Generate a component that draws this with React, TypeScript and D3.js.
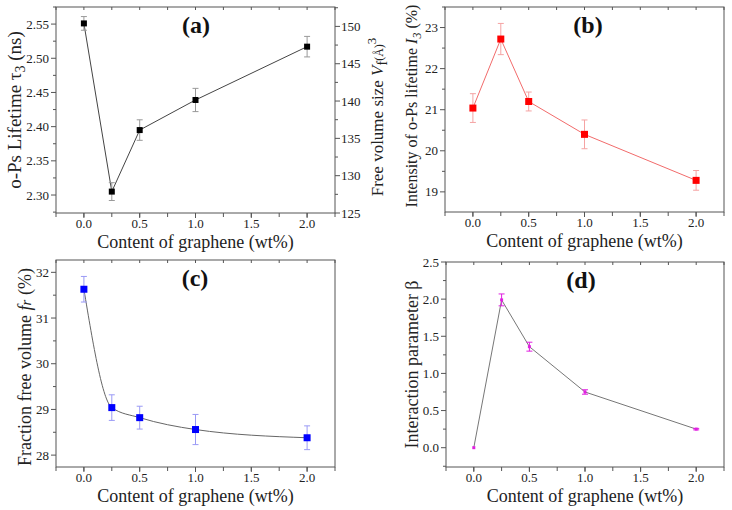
import * as d3 from "d3";
import React from "react";

// graphene content (wt%)
const contents = [0, 0.25, 0.5, 1, 2];
const tauValues = [2.551, 2.305, 2.395, 2.439, 2.517];
const tauErrors = [0.01, 0.013, 0.015, 0.017, 0.015];
const intensityValues = [21.04, 22.72, 21.2, 20.4, 19.28];
const intensityErrors = [0.35, 0.38, 0.23, 0.35, 0.24];
const ffvValues = [31.63, 29.04, 28.82, 28.56, 28.38];
const ffvErrors = [0.28, 0.28, 0.25, 0.33, 0.26];
const betaValues = [0, 1.99, 1.36, 0.75, 0.25];
const betaErrors = [0, 0.08, 0.06, 0.03, 0.01];

const xTicks = [0, 0.5, 1, 1.5, 2];
const tauTicks = [2.3, 2.35, 2.4, 2.45, 2.5, 2.55];
const volTicks = [125, 130, 135, 140, 145, 150];
const intensityTicks = [19, 20, 21, 22, 23];
const ffvTicks = [28, 29, 30, 31, 32];
const betaTicks = [0, 0.5, 1, 1.5, 2, 2.5];

const FONT = "'Liberation Serif', 'Times New Roman', serif";
const FRAME = "#555";
const TXT = "#222";

type PanelProps = {
  box: { left: number; right: number; top: number; bottom: number };
  yDomain: [number, number];
  yTicks: number[];
  yMinorStep: number;
  yFormat: string;
  values: number[];
  errors: number[];
  lineColor: string;
  errColor: string;
  markColor: string;
  markSize: number;
  smooth?: boolean;
  tag: string;
  tagX: number;
  yTitle: React.ReactNode;
  yTitleX: number;
  yTitleY?: number;
  yTitleSize?: number;
  right?: React.ReactNode;
};

function Panel(p: PanelProps) {
  const { box } = p;
  const x = d3.scaleLinear().domain([-0.25, 2.25]).range([box.left, box.right]);
  const y = d3.scaleLinear().domain(p.yDomain).range([box.bottom, box.top]);
  const xMinor = d3.range(-0.25, 2.26, 0.25);
  const yMinor = d3
    .range(Math.ceil(p.yDomain[0] / p.yMinorStep) * p.yMinorStep, p.yDomain[1] + 1e-9, p.yMinorStep)
    .filter((v) => !p.yTicks.some((t) => Math.abs(t - v) < 1e-6));
  const fmt = d3.format(p.yFormat);
  const line = d3
    .line<number>()
    .x((_, i) => x(contents[i]))
    .y((v) => y(v))
    .curve(p.smooth ? d3.curveMonotoneX : d3.curveLinear);
  const midY = p.yTitleY ?? (box.top + box.bottom) / 2;
  return (
    <g fontFamily={FONT}>
      <rect x={box.left} y={box.top} width={box.right - box.left} height={box.bottom - box.top} fill="none" stroke={FRAME} strokeWidth={1} />
      {/* bottom + top ticks */}
      {xMinor.map((v) => (
        <g key={"xm" + v}>
          <line x1={x(v)} x2={x(v)} y1={box.bottom} y2={box.bottom + 4} stroke={FRAME} />
          <line x1={x(v)} x2={x(v)} y1={box.top} y2={box.top + 3} stroke={FRAME} />
        </g>
      ))}
      {xTicks.map((v) => (
        <g key={"xt" + v}>
          <line x1={x(v)} x2={x(v)} y1={box.bottom} y2={box.bottom + 5} stroke={FRAME} />
          <text x={x(v)} y={box.bottom + 15} textAnchor="middle" fontSize={13} fill={TXT}>
            {d3.format(".1f")(v)}
          </text>
        </g>
      ))}
      {/* left ticks */}
      {yMinor.map((v) => (
        <line key={"ym" + v} x1={box.left - 3} x2={box.left} y1={y(v)} y2={y(v)} stroke={FRAME} />
      ))}
      {p.yTicks.map((v) => (
        <g key={"yt" + v}>
          <line x1={box.left - 5} x2={box.left} y1={y(v)} y2={y(v)} stroke={FRAME} />
          <text x={box.left - 7} y={y(v) + 4.5} textAnchor="end" fontSize={13} fill={TXT}>
            {fmt(v)}
          </text>
        </g>
      ))}
      <path d={line(p.values) || ""} fill="none" stroke={p.lineColor} strokeWidth={1} />
      {p.values.map((v, i) => {
        const cx = x(contents[i]);
        const e = p.errors[i];
        if (!e) return null;
        return (
          <g key={"e" + i} stroke={p.errColor} strokeWidth={1}>
            <line x1={cx} x2={cx} y1={y(v - e)} y2={y(v + e)} />
            <line x1={cx - 3} x2={cx + 3} y1={y(v - e)} y2={y(v - e)} />
            <line x1={cx - 3} x2={cx + 3} y1={y(v + e)} y2={y(v + e)} />
          </g>
        );
      })}
      {p.values.map((v, i) => (
        <rect
          key={"m" + i}
          x={x(contents[i]) - p.markSize / 2}
          y={y(v) - p.markSize / 2}
          width={p.markSize}
          height={p.markSize}
          fill={p.markColor}
        />
      ))}
      <text x={p.tagX} y={box.top + 26} textAnchor="middle" fontSize={24} fontWeight="bold" fill="#111">
        {p.tag}
      </text>
      <text x={(box.left + box.right) / 2} y={box.bottom + 35} textAnchor="middle" fontSize={18} fill={TXT}>
        Content of graphene (wt%)
      </text>
      <text
        transform={`translate(${p.yTitleX},${midY}) rotate(-90)`}
        textAnchor="middle"
        fontSize={p.yTitleSize ?? 18}
        fill={TXT}
      >
        {p.yTitle}
      </text>
      {p.right}
    </g>
  );
}

function RightVolumeAxis({ box }: { box: PanelProps["box"] }) {
  const y = d3.scaleLinear().domain([125, 152.6]).range([box.bottom, box.top]);
  const minor = d3.range(127.5, 152.6, 5);
  return (
    <g fontFamily={FONT}>
      {minor.map((v) => (
        <line key={"rm" + v} x1={box.right} x2={box.right + 3} y1={y(v)} y2={y(v)} stroke={FRAME} />
      ))}
      {volTicks.map((v) => (
        <g key={"rt" + v}>
          <line x1={box.right} x2={box.right + 5} y1={y(v)} y2={y(v)} stroke={FRAME} />
          <text x={box.right + 6} y={y(v) + 4.5} fontSize={13} fill={TXT}>
            {v}
          </text>
        </g>
      ))}
      <text transform={`translate(383,117) rotate(-90)`} textAnchor="middle" fontSize={17} fill={TXT}>
        Free volume size <tspan fontStyle="italic">V</tspan>
        <tspan fontSize={14} dy={4}>f</tspan>
        <tspan fontSize={12} dy={-4}>(Å)</tspan>
        <tspan fontSize={13} dy={-7}>3</tspan>
      </text>
    </g>
  );
}

export default function App() {
  const boxA = { left: 56, right: 335, top: 7, bottom: 213 };
  const boxB = { left: 445, right: 724, top: 7, bottom: 212 };
  const boxC = { left: 56, right: 335, top: 260, bottom: 467 };
  const boxD = { left: 446, right: 724, top: 262, bottom: 467 };
  return (
    <svg width={732} height={510} style={{ position: "absolute", left: 0, top: 0, background: "#fff" }}>
      <Panel
        box={boxA}
        yDomain={[2.2737, 2.575]}
        yTicks={tauTicks}
        yMinorStep={0.025}
        yFormat=".2f"
        values={tauValues}
        errors={tauErrors}
        lineColor="#444"
        errColor="#999"
        markColor="#000"
        markSize={6}
        tag="(a)"
        tagX={196}
        yTitleX={21}
        yTitleSize={19}
        yTitle={
          <>
            o-Ps Lifetime τ<tspan fontSize={14} dy={4}>3</tspan>
            <tspan dy={-4}> (ns)</tspan>
          </>
        }
        right={<RightVolumeAxis box={boxA} />}
      />
      <Panel
        box={boxB}
        yDomain={[18.51, 23.5]}
        yTicks={intensityTicks}
        yMinorStep={0.5}
        yFormat="d"
        values={intensityValues}
        errors={intensityErrors}
        lineColor="#f26b6b"
        errColor="#f5a3a3"
        markColor="#ff0000"
        markSize={7}
        tag="(b)"
        tagX={588}
        yTitleX={417}
        yTitleY={106}
        yTitleSize={16}
        yTitle={
          <>
            Intensity of o-Ps lifetime <tspan fontStyle="italic">I</tspan>
            <tspan fontSize={12} dy={4} fontStyle="italic">3</tspan>
            <tspan dy={-4}> (%)</tspan>
          </>
        }
      />
      <Panel
        box={boxC}
        yDomain={[27.74, 32.27]}
        yTicks={ffvTicks}
        yMinorStep={0.5}
        yFormat="d"
        values={ffvValues}
        errors={ffvErrors}
        lineColor="#666"
        errColor="#9a9af5"
        markColor="#0000ff"
        markSize={7}
        smooth
        tag="(c)"
        tagX={195}
        yTitleX={31}
        yTitleY={367}
        yTitle={
          <>
            Fraction free volume <tspan fontStyle="italic">f</tspan>
            <tspan fontStyle="italic" fontSize={15}>r</tspan> (%)
          </>
        }
      />
      <Panel
        box={boxD}
        yDomain={[-0.26, 2.5]}
        yTicks={betaTicks}
        yMinorStep={0.25}
        yFormat=".1f"
        values={betaValues}
        errors={betaErrors}
        lineColor="#777"
        errColor="#e020e0"
        markColor="#e020e0"
        markSize={3}
        tag="(d)"
        tagX={581}
        yTitleX={418}
        yTitle={<>Interaction parameter β</>}
      />
    </svg>
  );
}
